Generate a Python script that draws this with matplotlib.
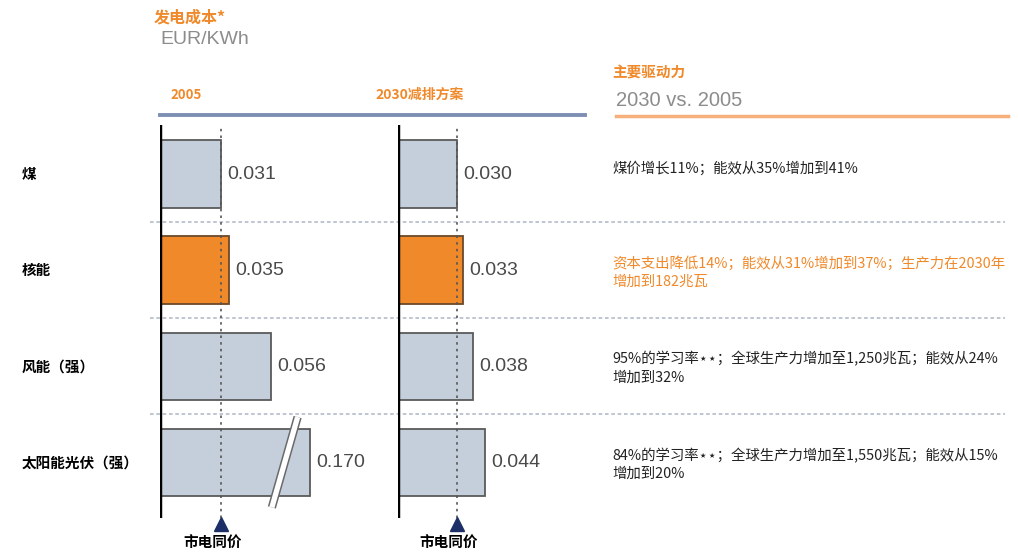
import numpy as np
import matplotlib.pyplot as plt
from matplotlib.lines import Line2D
import matplotlib.transforms as mtransforms

plt.rcParams['font.family'] = ['Noto Sans CJK SC', 'DejaVu Sans']

# data (EUR/kWh)
techs = ["煤", "核能", "风能（强）", "太阳能光伏（强）"]
cost_2005 = [0.031, 0.035, 0.056, 0.170]
cost_2030 = [0.030, 0.033, 0.038, 0.044]
parity = [0.031, 0.030]          # 市电同价 line, 2005 / 2030
shown_cap = 0.076                # bars longer than this are drawn broken
drivers = [
    "煤价增长11%；能效从35%增加到41%",
    "资本支出降低14%；能效从31%增加到37%；生产力在2030年\n增加到182兆瓦",
    "95%的学习率⋆⋆；全球生产力增加至1,250兆瓦；能效从24%\n增加到32%",
    "84%的学习率⋆⋆；全球生产力增加至1,550兆瓦；能效从15%\n增加到20%",
]
highlight = 1  # nuclear row

ORANGE = '#f0892a'
BAR_GREY = '#c5cfdb'
EDGE = '#5a5a5a'
TXT_GREY = '#8c8c8c'

W, H = 1020, 552
PX = 1980  # pixels per EUR/kWh
fig = plt.figure(figsize=(W / 100, H / 100), dpi=100)

bottom = 1 - 518 / H
height = (518 - 125) / H
ylim = (3.58, -0.51)
rows = np.arange(len(techs))

# background axes: row separators + right-hand text
bg = fig.add_axes([150 / W, bottom, (1005 - 150) / W, height], zorder=0)
bg.set_xlim(0, 1)
bg.set_ylim(*ylim)
bg.axis('off')
bg.hlines(rows[:-1] + 0.5, 0, 1, colors='#b9c1cc', linestyles=(0, (2, 1.5)), lw=1.3)

ytr = bg.get_yaxis_transform()
for i, t in enumerate(drivers):
    bg.text((612 - 150) / 855, i - (0.06 if '\n' not in t else -0.02), t,
            transform=ytr, ha='left', va='center', fontsize=10.4,
            color=ORANGE if i == highlight else '#222222', linespacing=1.35)

labtr = mtransforms.blended_transform_factory(fig.transFigure, bg.transData)
for i, t in enumerate(techs):
    fig.text(22 / W, i, t, transform=labtr, ha='left', va='center',
             fontsize=10.5, fontweight='bold', color='black')


def panel(left, values, par):
    ax = fig.add_axes([left / W, bottom, 200 / W, height], zorder=2)
    ax.patch.set_visible(False)
    ax.set_xlim(0, 200 / PX)
    ax.set_ylim(*ylim)
    ax.axis('off')
    shown = [min(v, shown_cap) for v in values]
    colors = [ORANGE if i == highlight else BAR_GREY for i in rows]
    edges = ['#6a4a2a' if i == highlight else EDGE for i in rows]
    ax.barh(rows, shown, height=0.7, color=colors, edgecolor=edges, lw=1.3, zorder=2)
    ax.axvline(0, color='black', lw=3.2, zorder=4)
    ax.axvline(par, color='#555555', lw=1.2, ls=(0, (1.5, 2.5)), zorder=3)
    for i, (v, s) in enumerate(zip(values, shown)):
        ax.text(s + 0.003, i, f"{v:.3f}", ha='left', va='center', fontsize=14,
                color='#4a4a4a', family='Liberation Sans')
        if v > shown_cap:
            xb = s - 0.013
            ax.plot([xb + 0.0065, xb - 0.0065], [i - 0.47, i + 0.47],
                    color='#6a6a6a', lw=6, solid_capstyle='butt', zorder=3, clip_on=False)
            ax.plot([xb + 0.0065, xb - 0.0065], [i - 0.47, i + 0.47],
                    color='white', lw=3.8, solid_capstyle='butt', zorder=3, clip_on=False)
    ax.plot([par], [ylim[0] + 0.06], marker='^', ms=10, color='#1c2f66',
            clip_on=False, zorder=5)
    ax.text(par - 0.0045, ylim[0] + 0.26, "市电同价", ha='center', va='center',
            fontsize=10.5, fontweight='bold', color='black', clip_on=False)
    return ax


panel(160, cost_2005, parity[0])
panel(398, cost_2030, parity[1])

# header
fig.text(154 / W, 1 - 18 / H, "发电成本*", ha='left', va='center', fontsize=11.5,
         fontweight='bold', color=ORANGE)
fig.text(160 / W, 1 - 39 / H, "EUR/KWh", ha='left', va='center', fontsize=14,
         color=TXT_GREY, family='Liberation Sans')
fig.text(170 / W, 1 - 95 / H, "2005", ha='left', va='center', fontsize=9.5,
         fontweight='bold', color=ORANGE)
fig.text(375 / W, 1 - 95 / H, "2030减排方案", ha='left', va='center', fontsize=10,
         fontweight='bold', color=ORANGE)
fig.text(612 / W, 1 - 73 / H, "主要驱动力", ha='left', va='center', fontsize=10.5,
         fontweight='bold', color=ORANGE)
fig.text(616 / W, 1 - 100 / H, "2030 vs. 2005", ha='left', va='center', fontsize=14.5,
         color=TXT_GREY, family='Liberation Sans')
fig.add_artist(Line2D([160 / W, 585 / W], [1 - 115 / H] * 2, color='#7d8fb3', lw=2.8))
fig.add_artist(Line2D([616 / W, 1008 / W], [1 - 116 / H] * 2, color='#f5b07c', lw=2.5))

fig.savefig('out.png', dpi=100)
